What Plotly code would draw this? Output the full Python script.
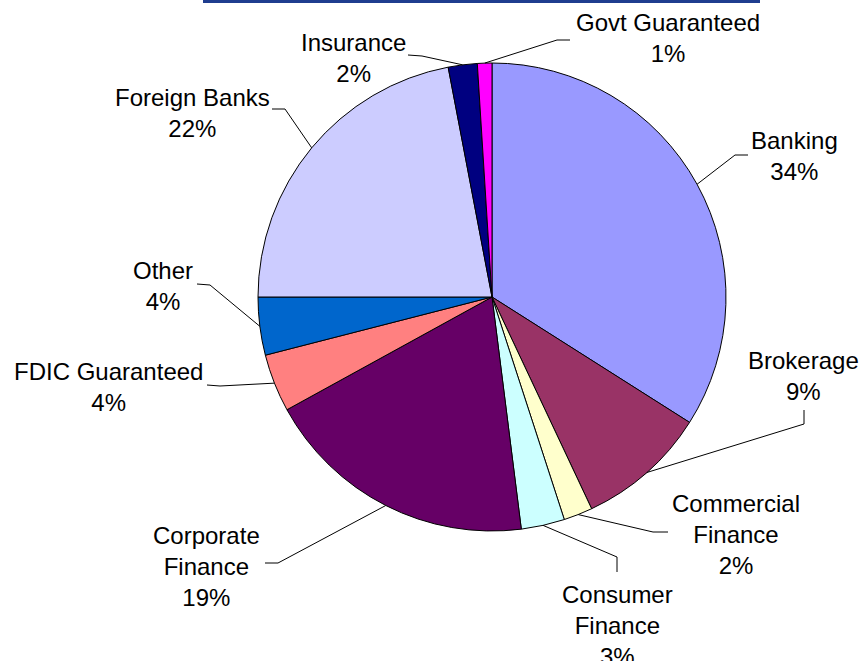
import math
import plotly.graph_objects as go

# Segments of the portfolio, clockwise from 12 o'clock
categories = ["Banking", "Brokerage", "Commercial Finance", "Consumer Finance",
              "Corporate Finance", "FDIC Guaranteed", "Other", "Foreign Banks",
              "Insurance", "Govt Guaranteed"]
shares = [34, 9, 2, 3, 19, 4, 4, 22, 2, 1]
label_text = ["Banking", "Brokerage", "Commercial<br>Finance", "Consumer<br>Finance",
              "Corporate<br>Finance", "FDIC Guaranteed", "Other", "Foreign Banks",
              "Insurance", "Govt Guaranteed"]
colors = ["#9999FF", "#993366", "#FFFFCC", "#CCFFFF", "#660066",
          "#FF8080", "#0066CC", "#CCCCFF", "#000080", "#FF00FF"]

W, H = 863, 661
CX, CY, R = 492, 297, 234

# label centre (px) and the elbow of each leader line (px)
label_pos = [(794, 156), (803, 376), (736, 534), (617, 625), (206, 566),
             (108, 387), (163, 286), (192, 113), (353, 58), (668, 38)]
elbow_pos = [[(748, 155), (735, 155)], [(804, 410), (804, 424)],
             [(668, 532), (653, 532)], [(617, 572), (617, 557)],
             [(265, 563), (278, 563)], [(207, 385), (220, 386)],
             [(197, 284), (210, 285)], [(272, 109), (285, 109)],
             [(408, 55), (422, 56)], [(570, 40), (557, 40)]]


def px(x):
    return x / W


def py(y):
    return 1 - y / H


fig = go.Figure(go.Pie(
    labels=categories, values=shares, sort=False, direction="clockwise",
    rotation=0, textinfo="none", hoverinfo="label+percent",
    marker=dict(colors=colors, line=dict(color="black", width=1)),
    domain=dict(x=[px(CX - R), px(CX + R)], y=[py(CY + R), py(CY - R)]),
    showlegend=False,
))

shapes = []
annotations = []
total = sum(shares)
cum = 0
for i, v in enumerate(shares):
    mid = (cum + v / 2) / total * 2 * math.pi
    cum += v
    ex = CX + R * math.sin(mid)
    ey = CY - R * math.cos(mid)
    pts = elbow_pos[i] + [(ex, ey)]
    for (x0, y0), (x1, y1) in zip(pts[:-1], pts[1:]):
        shapes.append(dict(type="line", xref="paper", yref="paper",
                           x0=px(x0), y0=py(y0), x1=px(x1), y1=py(y1),
                           line=dict(color="black", width=1)))
    lx, ly = label_pos[i]
    annotations.append(dict(
        text=f"{label_text[i]}<br>{v}%", x=px(lx), y=py(ly),
        xref="paper", yref="paper", xanchor="center", yanchor="middle",
        showarrow=False, align="center",
        font=dict(family="Liberation Sans, Arial, sans-serif", size=24, color="black"),
    ))

# rule along the top edge
shapes.append(dict(type="rect", xref="paper", yref="paper",
                   x0=px(203), x1=px(760), y0=py(3), y1=1,
                   fillcolor="#1F3D8F", line=dict(width=0)))

fig.update_layout(
    width=W, height=H, margin=dict(l=0, r=0, t=0, b=0),
    paper_bgcolor="white", plot_bgcolor="white",
    shapes=shapes, annotations=annotations,
)

fig.write_html("out.html")
